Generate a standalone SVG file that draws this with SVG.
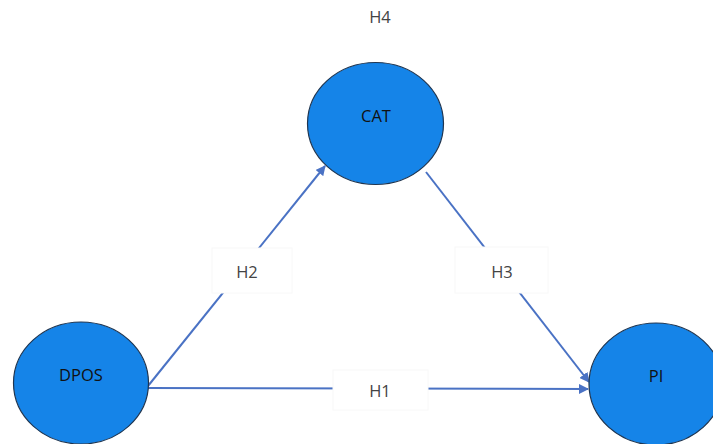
<svg xmlns="http://www.w3.org/2000/svg" width="713" height="444" viewBox="0 0 713 444">
<style>
.node{fill:#1584E8;stroke:#1f3550;stroke-width:1.2}
.nt{font-family:"Open Sans","Liberation Sans",sans-serif;font-size:16.500px;fill:#111;text-anchor:middle}
.lt{font-family:"Open Sans","Liberation Sans",sans-serif;font-size:16.500px;fill:#444;text-anchor:middle}
.edge{stroke:#4a72c4;stroke-width:2;fill:none;marker-end:url(#ah)}
.lb{fill:#fff;stroke:#f8f8f8;stroke-width:1}
</style>
<defs>
<marker id="ah" viewBox="0 0 10 10" refX="9" refY="5" markerWidth="5" markerHeight="5" orient="auto" markerUnits="strokeWidth">
<path d="M0,0 L10,5 L0,10 z" fill="#4a72c4"/>
</marker>
</defs>
<rect width="713" height="444" fill="#fff"/>
<g id="connectors">
<line class="edge" x1="148" y1="388" x2="588" y2="389"/>
<line class="edge" x1="148" y1="386" x2="325" y2="166"/>
<line class="edge" x1="426" y1="172" x2="589" y2="382"/>
<rect class="lb" x="212" y="248" width="80" height="45"/>
<text class="lt" x="247" y="278">H2</text>
<rect class="lb" x="455" y="247" width="93" height="46"/>
<text class="lt" x="502" y="278">H3</text>
<rect class="lb" x="333" y="370" width="95" height="40"/>
<text class="lt" x="380" y="397">H1</text>
</g>
<g id="H4"><text class="lt" x="380" y="23">H4</text></g>
<g id="CAT"><ellipse class="node" cx="375.500" cy="123.500" rx="68" ry="61"/><text class="nt" x="376" y="122">CAT</text></g>
<g id="DPOS"><ellipse class="node" cx="81" cy="383" rx="67.500" ry="61"/><text class="nt" x="81" y="381">DPOS</text></g>
<g id="PI"><ellipse class="node" cx="656" cy="384" rx="67" ry="61"/><text class="nt" x="656" y="382">PI</text></g>
</svg>
